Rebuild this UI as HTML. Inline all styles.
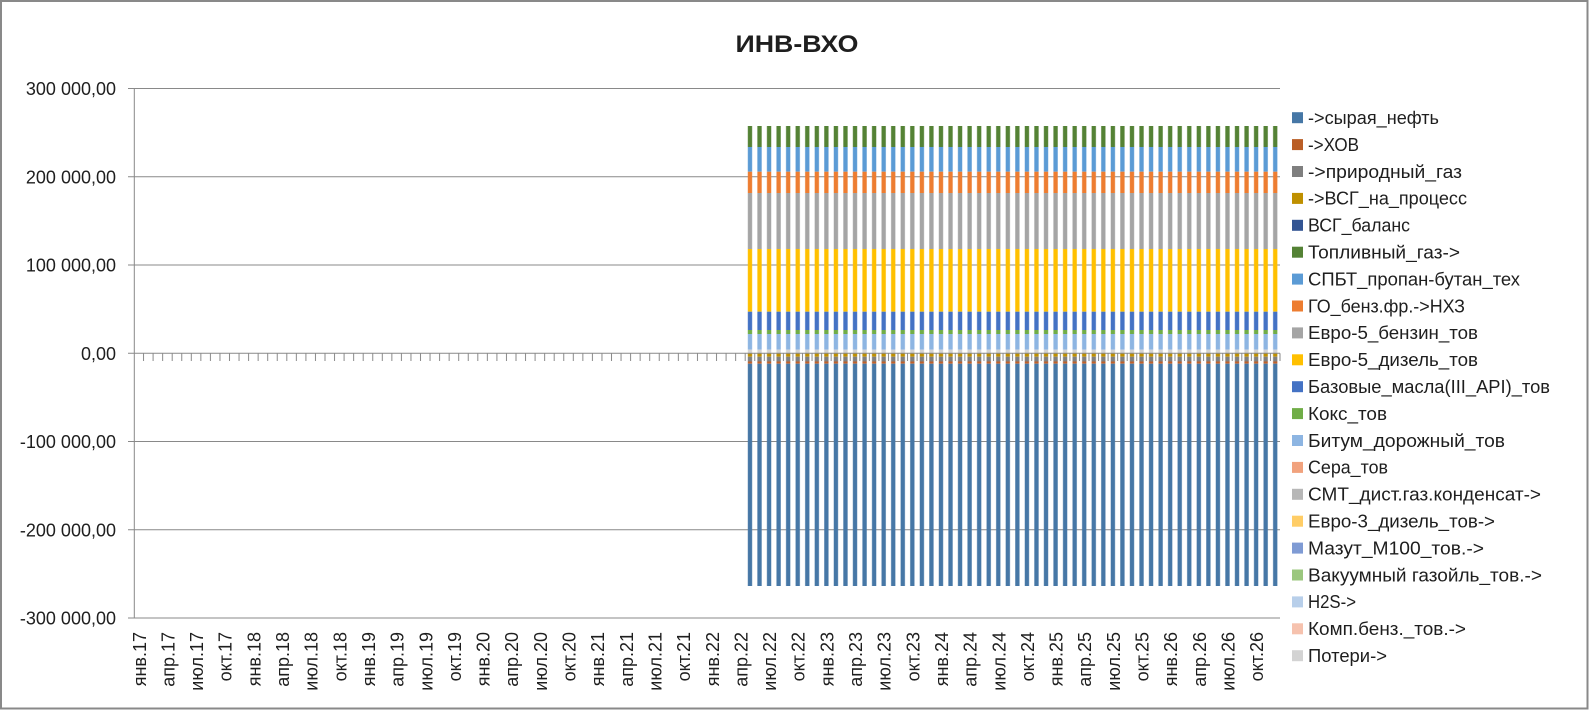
<!DOCTYPE html>
<html>
<head>
<meta charset="utf-8">
<style>
html,body{margin:0;padding:0;background:#fff;}
svg{display:block;}
text{font-family:"Liberation Sans","DejaVu Sans",sans-serif;fill:#1e1e1e;}
</style>
</head>
<body>
<svg width="1596" height="710" viewBox="0 0 1596 710" xmlns="http://www.w3.org/2000/svg">
<defs>
<pattern id="bp" patternUnits="userSpaceOnUse" x="745.2" y="0" width="9.55" height="710">
<rect x="2.625" y="0" width="4.3" height="710" fill="#fff"/>
</pattern>
<pattern id="tp" patternUnits="userSpaceOnUse" x="138.775" y="0" width="9.55" height="710">
<rect x="4.275" y="0" width="1" height="710" fill="#898989"/>
</pattern>
<mask id="bm">
<rect x="745.2" y="0" width="534.8" height="710" fill="url(#bp)"/>
</mask>
</defs>
<rect x="0" y="0" width="1596" height="710" fill="#fff"/>

<!-- gridlines -->
<g stroke="#898989" stroke-width="1" fill="none">
<line x1="128" y1="88.55" x2="1280" y2="88.55"/>
<line x1="128" y1="176.8" x2="1280" y2="176.8"/>
<line x1="128" y1="265.05" x2="1280" y2="265.05"/>
<line x1="128" y1="441.55" x2="1280" y2="441.55"/>
<line x1="128" y1="529.8" x2="1280" y2="529.8"/>
<line x1="128" y1="618.05" x2="1280" y2="618.05"/>
<line x1="134.3" y1="88.55" x2="134.3" y2="618.05"/>
</g>
<!-- x ticks -->
<rect x="139" y="353.3" width="1142" height="7.7" fill="url(#tp)"/>

<!-- bars -->
<g mask="url(#bm)">
<rect x="745.2" y="126" width="534.8" height="21" fill="#548235"/>
<rect x="745.2" y="147" width="534.8" height="24.7" fill="#5B9BD5"/>
<rect x="745.2" y="171.7" width="534.8" height="21.3" fill="#ED7D31"/>
<rect x="745.2" y="193" width="534.8" height="56" fill="#A5A5A5"/>
<rect x="745.2" y="249" width="534.8" height="62.7" fill="#FFC000"/>
<rect x="745.2" y="311.7" width="534.8" height="18.3" fill="#4472C4"/>
<rect x="745.2" y="330" width="534.8" height="4" fill="#70AD47"/>
<rect x="745.2" y="334" width="534.8" height="15.7" fill="#8DB5E2"/>
<rect x="745.2" y="349.7" width="534.8" height="3.6" fill="#D3D3D3"/>
<rect x="745.2" y="353.3" width="534.8" height="3.4" fill="#BF9000"/>
<rect x="745.2" y="356.7" width="534.8" height="4.8" fill="#7F7F7F"/>
<rect x="745.2" y="361.5" width="534.8" height="2.2" fill="#C0602A"/>
<rect x="745.2" y="363.7" width="534.8" height="222.3" fill="#4677A6"/>
</g>

<!-- zero axis line -->
<line x1="128" y1="353.3" x2="1280" y2="353.3" stroke="#898989" stroke-width="1"/>

<!-- y labels -->
<g font-size="18" text-anchor="end">
<text x="116" y="95">300 000,00</text>
<text x="116" y="183.3">200 000,00</text>
<text x="116" y="271.5">100 000,00</text>
<text x="116" y="359.8">0,00</text>
<text x="116" y="448">-100 000,00</text>
<text x="116" y="536.3">-200 000,00</text>
<text x="116" y="624.5">-300 000,00</text>
</g>

<!-- title -->
<text x="797" y="52" font-size="24" font-weight="bold" text-anchor="middle" textLength="123" lengthAdjust="spacingAndGlyphs">ИНВ-ВХО</text>

<!-- x labels -->
<g font-size="18" text-anchor="end">
<text transform="translate(145.8,632) rotate(-90)">янв.17</text>
<text transform="translate(174.4,632) rotate(-90)">апр.17</text>
<text transform="translate(203.1,632) rotate(-90)">июл.17</text>
<text transform="translate(231.7,632) rotate(-90)">окт.17</text>
<text transform="translate(260.4,632) rotate(-90)">янв.18</text>
<text transform="translate(289.0,632) rotate(-90)">апр.18</text>
<text transform="translate(317.7,632) rotate(-90)">июл.18</text>
<text transform="translate(346.3,632) rotate(-90)">окт.18</text>
<text transform="translate(375.0,632) rotate(-90)">янв.19</text>
<text transform="translate(403.6,632) rotate(-90)">апр.19</text>
<text transform="translate(432.3,632) rotate(-90)">июл.19</text>
<text transform="translate(460.9,632) rotate(-90)">окт.19</text>
<text transform="translate(489.6,632) rotate(-90)">янв.20</text>
<text transform="translate(518.2,632) rotate(-90)">апр.20</text>
<text transform="translate(546.9,632) rotate(-90)">июл.20</text>
<text transform="translate(575.5,632) rotate(-90)">окт.20</text>
<text transform="translate(604.2,632) rotate(-90)">янв.21</text>
<text transform="translate(632.8,632) rotate(-90)">апр.21</text>
<text transform="translate(661.5,632) rotate(-90)">июл.21</text>
<text transform="translate(690.1,632) rotate(-90)">окт.21</text>
<text transform="translate(718.8,632) rotate(-90)">янв.22</text>
<text transform="translate(747.4,632) rotate(-90)">апр.22</text>
<text transform="translate(776.1,632) rotate(-90)">июл.22</text>
<text transform="translate(804.7,632) rotate(-90)">окт.22</text>
<text transform="translate(833.4,632) rotate(-90)">янв.23</text>
<text transform="translate(862.0,632) rotate(-90)">апр.23</text>
<text transform="translate(890.7,632) rotate(-90)">июл.23</text>
<text transform="translate(919.3,632) rotate(-90)">окт.23</text>
<text transform="translate(948.0,632) rotate(-90)">янв.24</text>
<text transform="translate(976.6,632) rotate(-90)">апр.24</text>
<text transform="translate(1005.3,632) rotate(-90)">июл.24</text>
<text transform="translate(1033.9,632) rotate(-90)">окт.24</text>
<text transform="translate(1062.6,632) rotate(-90)">янв.25</text>
<text transform="translate(1091.2,632) rotate(-90)">апр.25</text>
<text transform="translate(1119.9,632) rotate(-90)">июл.25</text>
<text transform="translate(1148.5,632) rotate(-90)">окт.25</text>
<text transform="translate(1177.2,632) rotate(-90)">янв.26</text>
<text transform="translate(1205.8,632) rotate(-90)">апр.26</text>
<text transform="translate(1234.5,632) rotate(-90)">июл.26</text>
<text transform="translate(1263.1,632) rotate(-90)">окт.26</text>
</g>

<!-- legend -->
<g>
<rect x="1292" y="112.2" width="11" height="11" fill="#4677A6"/>
<rect x="1292" y="139.1" width="11" height="11" fill="#BA5E26"/>
<rect x="1292" y="166" width="11" height="11" fill="#7F7F7F"/>
<rect x="1292" y="192.9" width="11" height="11" fill="#BF9000"/>
<rect x="1292" y="219.8" width="11" height="11" fill="#335593"/>
<rect x="1292" y="246.7" width="11" height="11" fill="#548235"/>
<rect x="1292" y="273.6" width="11" height="11" fill="#5B9BD5"/>
<rect x="1292" y="300.5" width="11" height="11" fill="#ED7D31"/>
<rect x="1292" y="327.4" width="11" height="11" fill="#A5A5A5"/>
<rect x="1292" y="354.3" width="11" height="11" fill="#FFC000"/>
<rect x="1292" y="381.2" width="11" height="11" fill="#4472C4"/>
<rect x="1292" y="408.1" width="11" height="11" fill="#70AD47"/>
<rect x="1292" y="435" width="11" height="11" fill="#8DB5E2"/>
<rect x="1292" y="461.9" width="11" height="11" fill="#F1A27D"/>
<rect x="1292" y="488.8" width="11" height="11" fill="#B7B7B7"/>
<rect x="1292" y="515.7" width="11" height="11" fill="#FFCD66"/>
<rect x="1292" y="542.6" width="11" height="11" fill="#7F9BD4"/>
<rect x="1292" y="569.5" width="11" height="11" fill="#9BC77E"/>
<rect x="1292" y="596.4" width="11" height="11" fill="#B8CFEA"/>
<rect x="1292" y="623.3" width="11" height="11" fill="#F6C2AE"/>
<rect x="1292" y="650.2" width="11" height="11" fill="#D3D3D3"/>
</g>
<g font-size="18" lengthAdjust="spacingAndGlyphs">
<text x="1308" y="124" textLength="131" lengthAdjust="spacingAndGlyphs">-&gt;сырая_нефть</text>
<text x="1308" y="150.9" textLength="51" lengthAdjust="spacingAndGlyphs">-&gt;ХОВ</text>
<text x="1308" y="177.8" textLength="154" lengthAdjust="spacingAndGlyphs">-&gt;природный_газ</text>
<text x="1308" y="204.7" textLength="159" lengthAdjust="spacingAndGlyphs">-&gt;ВСГ_на_процесс</text>
<text x="1308" y="231.6" textLength="102" lengthAdjust="spacingAndGlyphs">ВСГ_баланс</text>
<text x="1308" y="258.5" textLength="152" lengthAdjust="spacingAndGlyphs">Топливный_газ-&gt;</text>
<text x="1308" y="285.4" textLength="212" lengthAdjust="spacingAndGlyphs">СПБТ_пропан-бутан_тех</text>
<text x="1308" y="312.3" textLength="157" lengthAdjust="spacingAndGlyphs">ГО_бенз.фр.-&gt;НХЗ</text>
<text x="1308" y="339.2" textLength="170" lengthAdjust="spacingAndGlyphs">Евро-5_бензин_тов</text>
<text x="1308" y="366.1" textLength="170" lengthAdjust="spacingAndGlyphs">Евро-5_дизель_тов</text>
<text x="1308" y="393" textLength="242" lengthAdjust="spacingAndGlyphs">Базовые_масла(III_API)_тов</text>
<text x="1308" y="419.9" textLength="79" lengthAdjust="spacingAndGlyphs">Кокс_тов</text>
<text x="1308" y="446.8" textLength="197" lengthAdjust="spacingAndGlyphs">Битум_дорожный_тов</text>
<text x="1308" y="473.7" textLength="80" lengthAdjust="spacingAndGlyphs">Сера_тов</text>
<text x="1308" y="500.6" textLength="233" lengthAdjust="spacingAndGlyphs">СМТ_дист.газ.конденсат-&gt;</text>
<text x="1308" y="527.5" textLength="187" lengthAdjust="spacingAndGlyphs">Евро-3_дизель_тов-&gt;</text>
<text x="1308" y="554.4" textLength="176" lengthAdjust="spacingAndGlyphs">Мазут_М100_тов.-&gt;</text>
<text x="1308" y="581.3" textLength="234" lengthAdjust="spacingAndGlyphs">Вакуумный газойль_тов.-&gt;</text>
<text x="1308" y="608.2" textLength="48" lengthAdjust="spacingAndGlyphs">H2S-&gt;</text>
<text x="1308" y="635.1" textLength="158" lengthAdjust="spacingAndGlyphs">Комп.бенз._тов.-&gt;</text>
<text x="1308" y="662" textLength="79" lengthAdjust="spacingAndGlyphs">Потери-&gt;</text>
</g>

<!-- outer border -->
<rect x="1" y="1" width="1586.5" height="707.5" fill="none" stroke="#898989" stroke-width="2"/>
</svg>
</body>
</html>
